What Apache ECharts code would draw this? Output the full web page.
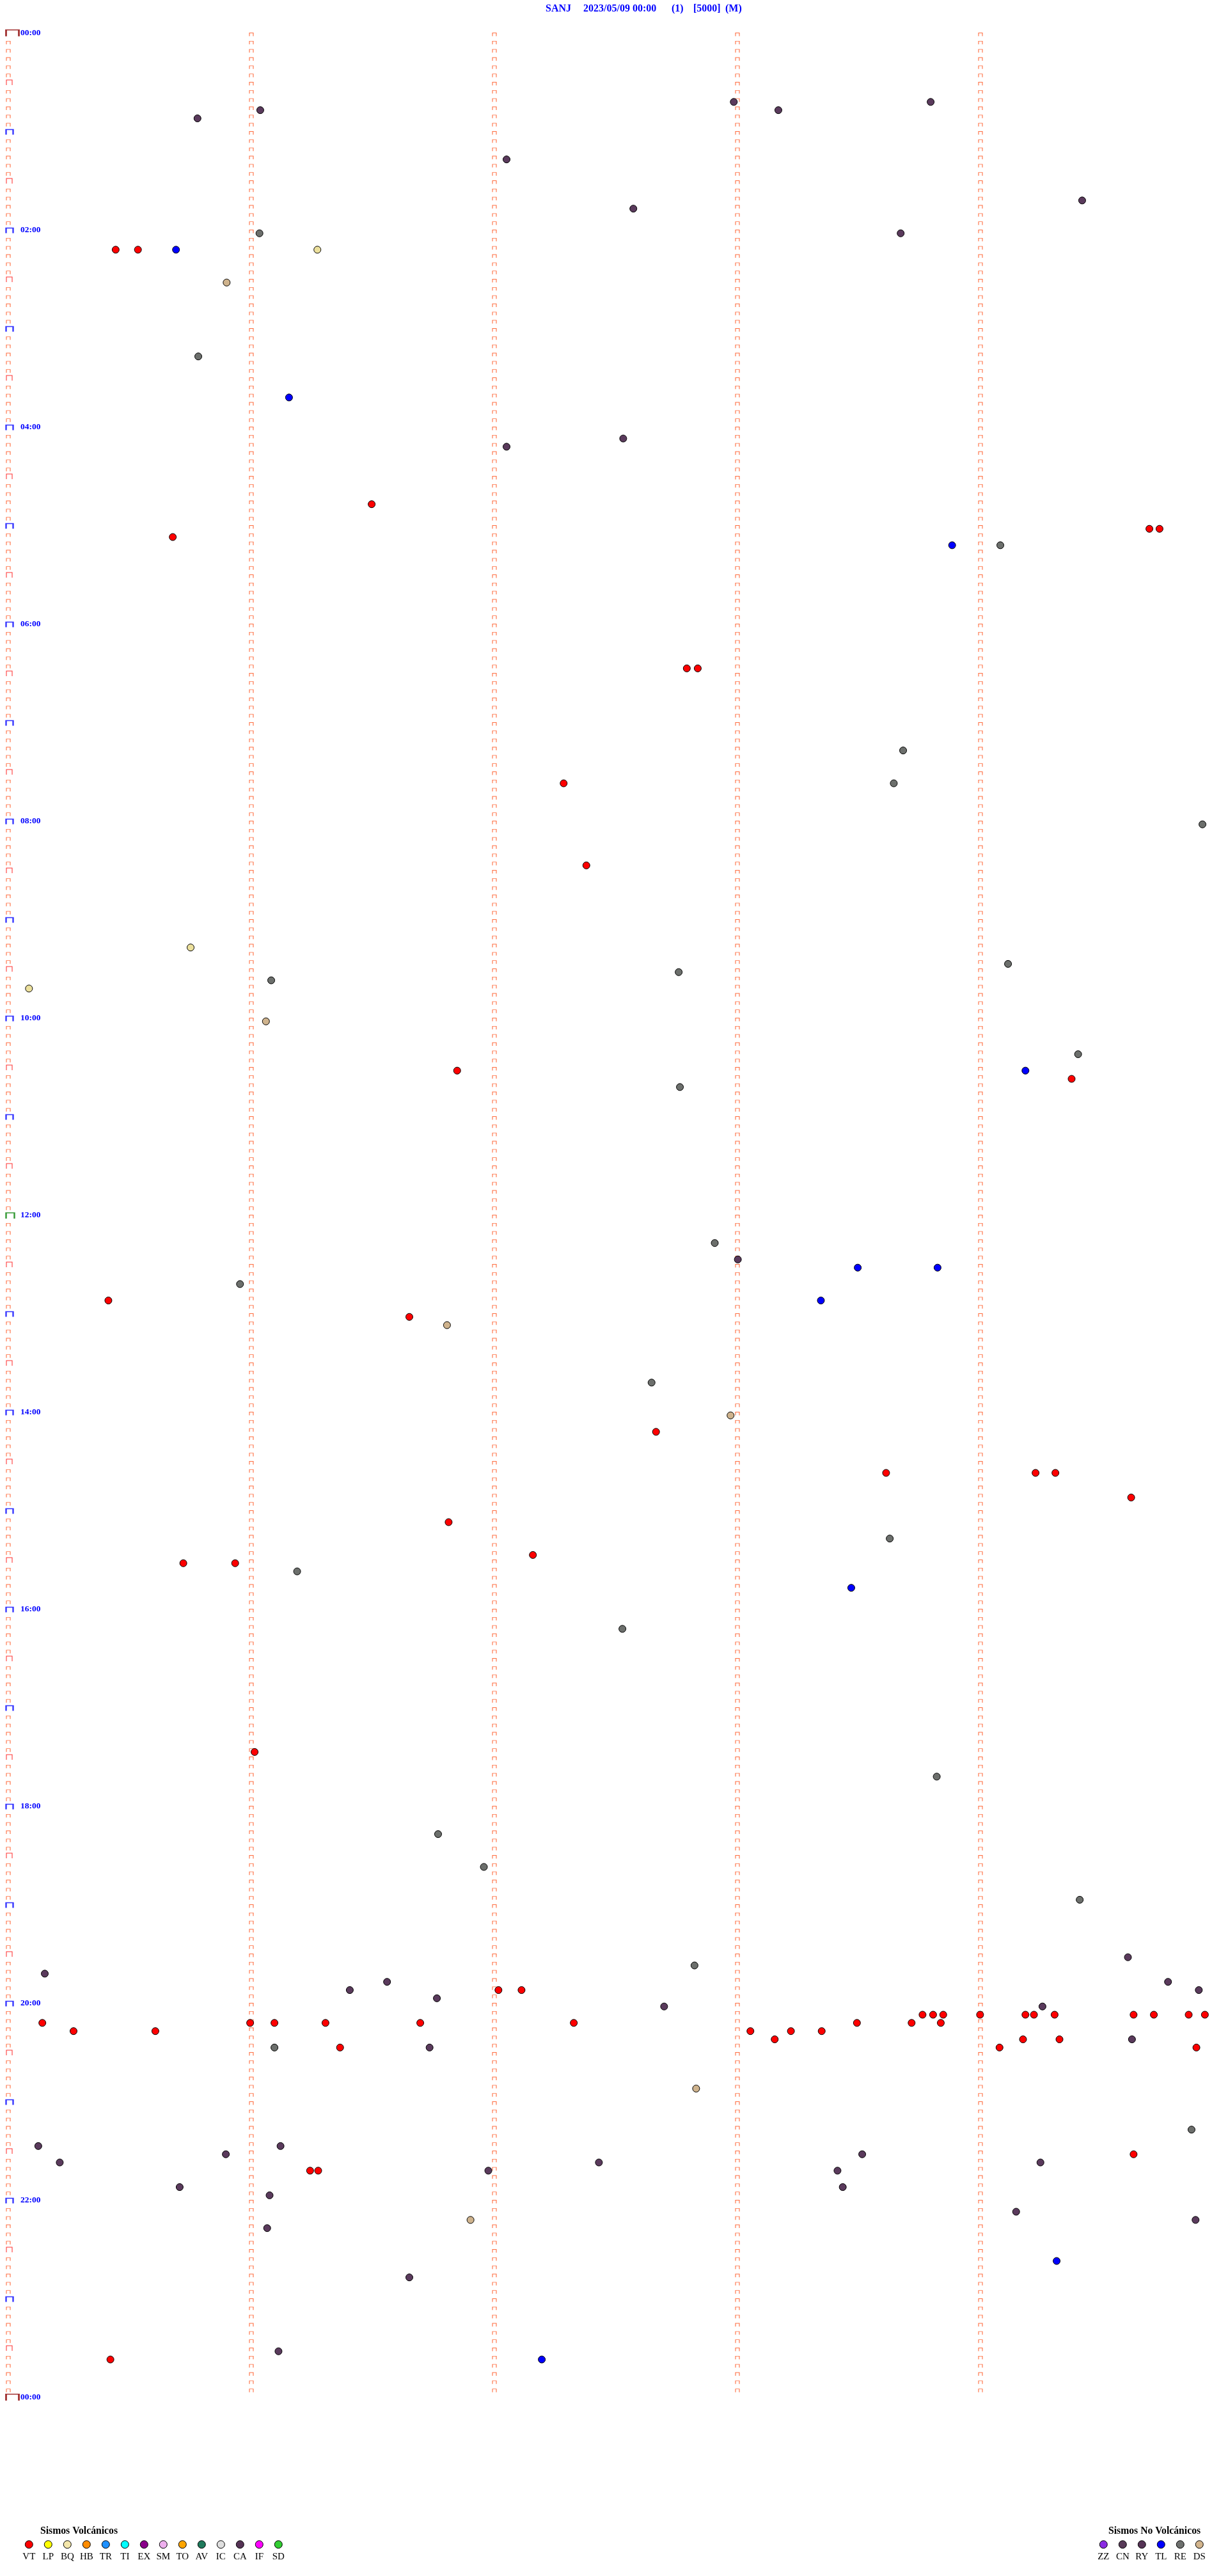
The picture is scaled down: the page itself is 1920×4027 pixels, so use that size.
<!DOCTYPE html>
<html><head><meta charset="utf-8">
<script src="https://cdn.jsdelivr.net/npm/echarts@6/dist/echarts.min.js"></script>
<style>html,body{margin:0;padding:0;background:#fff}#c{width:1920px;height:4027px}</style>
</head><body><div id="c"></div>
<script>
// ---------- data ----------
const titleParts = ['SANJ', '2023/05/09 00:00', '(1)', '[5000]', '(M)'];
const hourLabels = ['00:00','02:00','04:00','06:00','08:00','10:00','12:00','14:00','16:00','18:00','20:00','22:00','00:00'];
const columnSeconds = [0, 60, 120, 180, 240];   // dashed columns (seconds within a 5-min line)

// events: [seconds within the 5-minute line, line start (minutes of day)]
const vtEvents = [
  [26.5,130],[32.0,130],[89.7,285],[281.7,300],[284.2,300],[40.6,305],[167.5,385],[170.2,385],
  [137.1,455],[142.7,505],[110.8,630],[262.5,635],[24.7,770],[99.0,780],[159.9,850],
  [216.7,875],[253.6,875],[258.5,875],[277.2,890],[108.7,905],[129.5,925],[43.2,930],[56.0,930],
  [60.8,1045],[121.0,1190],[126.7,1190],
  [225.7,1205],[228.3,1205],[230.8,1205],[239.9,1205],[251.1,1205],[253.2,1205],[258.3,1205],
  [277.8,1205],[282.8,1205],[291.4,1205],[295.4,1205],
  [8.4,1210],[59.7,1210],[65.7,1210],[78.3,1210],[101.7,1210],[139.6,1210],[209.5,1210],[223.0,1210],[230.2,1210],
  [16.1,1215],[36.3,1215],[183.2,1215],[193.2,1215],[200.8,1215],
  [189.2,1220],[250.5,1220],[259.5,1220],
  [81.9,1225],[244.7,1225],[293.3,1225],
  [277.8,1290],[74.5,1300],[76.5,1300],[25.2,1415]
];
const caEvents = [
  [179.1,40],[227.7,40],[62.2,45],[190.1,45],[46.7,50],[123.0,75],[265.1,100],[154.3,105],
  [220.3,120],[151.8,245],[123.0,250],[180.1,745],[276.4,1170],[9.0,1180],[93.5,1185],[286.3,1185],
  [84.3,1190],[293.9,1190],[105.8,1195],[161.9,1200],[255.3,1200],[277.4,1220],[104.0,1225],
  [7.4,1285],[67.2,1285],[53.7,1290],[210.8,1290],[12.7,1295],[145.8,1295],[254.8,1295],
  [118.5,1300],[204.7,1300],[42.3,1310],[206.0,1310],[64.5,1315],[248.8,1325],[293.1,1330],
  [63.9,1335],[99.0,1365],[66.7,1410]
];
const reEvents = [
  [62.0,120],[46.9,195],[244.9,310],[220.9,435],[218.6,455],[294.8,480],[246.8,565],[165.5,570],
  [64.9,575],[264.1,620],[165.8,640],[174.4,735],[57.2,760],[158.8,820],[217.6,915],[71.3,935],
  [151.6,970],[229.2,1060],[106.1,1095],[117.4,1115],[264.5,1135],[169.4,1175],[65.7,1225],[292.1,1275]
];
const tlEvents = [
  [41.4,130],[69.3,220],[233.0,310],[251.1,630],[209.7,750],[229.4,750],[200.6,770],[208.1,945],
  [258.8,1355],[131.7,1415]
];
const dsEvents = [[53.9,150],[63.6,600],[108.3,785],[178.3,840],[169.8,1250],[114.1,1330]];
const bqEvents = [[76.3,130],[45.0,555],[5.1,580]];

const volcNames  = ['VT','LP','BQ','HB','TR','TI','EX','SM','TO','AV','IC','CA','IF','SD'];
const volcColors = ['#ff0000','#ffff00','#f3e6aa','#ff8c00','#1e90ff','#00ffff','#8b008b','#eeb0ee',
                    '#ffa500','#1f7a5c','#dedede','#553355','#ff00ff','#32cd32'];
const nonVolcNames  = ['ZZ','CN','RY','TL','RE','DS'];
const nonVolcColors = ['#8a2be2','#583a58','#553355','#0000ff','#6e706e','#d2b48c'];

// ---------- layout / style ----------
const SERIF = '"Liberation Serif", "Times New Roman", serif';
const titleX = [853, 912, 1050, 1084, 1134];
const GRID_TOP = 51.5, GRID_H = 3696;
const DOT_DY = 5.2;

// axis decoration marks built from the column / tick definitions
const smallMarks = [], halfMarks = [], hourMarks = [], noonMarks = [], dayMarks = [];
columnSeconds.forEach(c => {
  for (let m = 0; m < 1440; m += 5) {
    if (c === 0 && m % 30 === 0) continue;
    smallMarks.push([c, m]);
  }
});
for (let m = 30; m < 1440; m += 60) halfMarks.push([0, m]);
for (let m = 60; m < 1440; m += 60) { if (m === 720) noonMarks.push([0, m]); else hourMarks.push([0, m]); }
dayMarks.push([0, 0], [0, 1440]);

const BRACKET = 'path://M0,10L0,0L10,0L10,10';
function markSeries(data, color, size, offset, width) {
  return {
    type: 'scatter', data, symbol: BRACKET, symbolSize: size, symbolOffset: offset,
    itemStyle: { color: 'rgba(0,0,0,0)', borderColor: color, borderWidth: width },
    silent: true, z: 1
  };
}
function eventSeries(name, data, color) {
  return {
    type: 'scatter', name, data, symbol: 'circle', symbolSize: 11, symbolOffset: [0, DOT_DY],
    itemStyle: { color, borderColor: '#000', borderWidth: 1, opacity: 1 }, z: 3
  };
}

const graphics = [];
titleParts.forEach((t, i) => graphics.push({
  type: 'text', x: titleX[i], y: 14,
  style: { text: t, font: 'bold 16px ' + SERIF, fill: '#0000ff', verticalAlign: 'middle' }
}));
function legendBlock(title, titleLeft, x0, names, colors) {
  graphics.push({ type: 'text', x: titleLeft, y: 3957,
    style: { text: title, font: 'bold 15.7px ' + SERIF, fill: '#000', verticalAlign: 'middle' } });
  names.forEach((n, i) => {
    const cx = x0 + 30 * i;
    graphics.push({ type: 'circle', shape: { cx, cy: 3977.7, r: 6 },
      style: { fill: colors[i], stroke: '#000', lineWidth: 1 } });
    graphics.push({ type: 'text', x: cx, y: 3997,
      style: { text: n, font: '15px ' + SERIF, fill: '#000', align: 'center', verticalAlign: 'middle' } });
  });
}
legendBlock('Sismos Volcánicos', 63, 45.3, volcNames, volcColors);
legendBlock('Sismos No Volcánicos', 1733, 1725.3, nonVolcNames, nonVolcColors);

const chart = echarts.init(document.getElementById('c'), null, { renderer: 'canvas' });
chart.setOption({
  animation: false,
  backgroundColor: '#ffffff',
  grid: { left: 13, right: 7, top: GRID_TOP, height: GRID_H, containLabel: false },
  xAxis: { type: 'value', min: 0, max: 300, show: false },
  yAxis: {
    type: 'value', min: 0, max: 1440, interval: 120, inverse: true,
    axisLine: { show: false }, axisTick: { show: false }, splitLine: { show: false },
    axisLabel: {
      inside: true, margin: 19, color: '#0000ff', fontWeight: 'bold', fontSize: 13.5, fontFamily: SERIF,
      formatter: v => hourLabels[Math.round(v / 120)]
    }
  },
  graphic: graphics,
  series: [
    markSeries(smallMarks, '#ff4a12', [6, 5], [0, 2.5], 1),
    markSeries(halfMarks, '#ff0000', [9, 8], [1.5, 0.5], 1),
    markSeries(hourMarks, '#0000ff', [11, 8], [2, 1], 2),
    markSeries(noonMarks, '#008000', [13, 9], [3, 1], 2),
    markSeries(dayMarks, '#8b0000', [20, 10], [6.5, 0.2], 2),
    eventSeries('VT', vtEvents, '#ff0000'),
    eventSeries('BQ', bqEvents, '#ece09c'),
    eventSeries('CA', caEvents, '#5a3a5c'),
    eventSeries('RE', reEvents, '#6c6f6c'),
    eventSeries('TL', tlEvents, '#0000ff'),
    eventSeries('DS', dsEvents, '#cfb38d')
  ]
});
</script>
</body></html>
